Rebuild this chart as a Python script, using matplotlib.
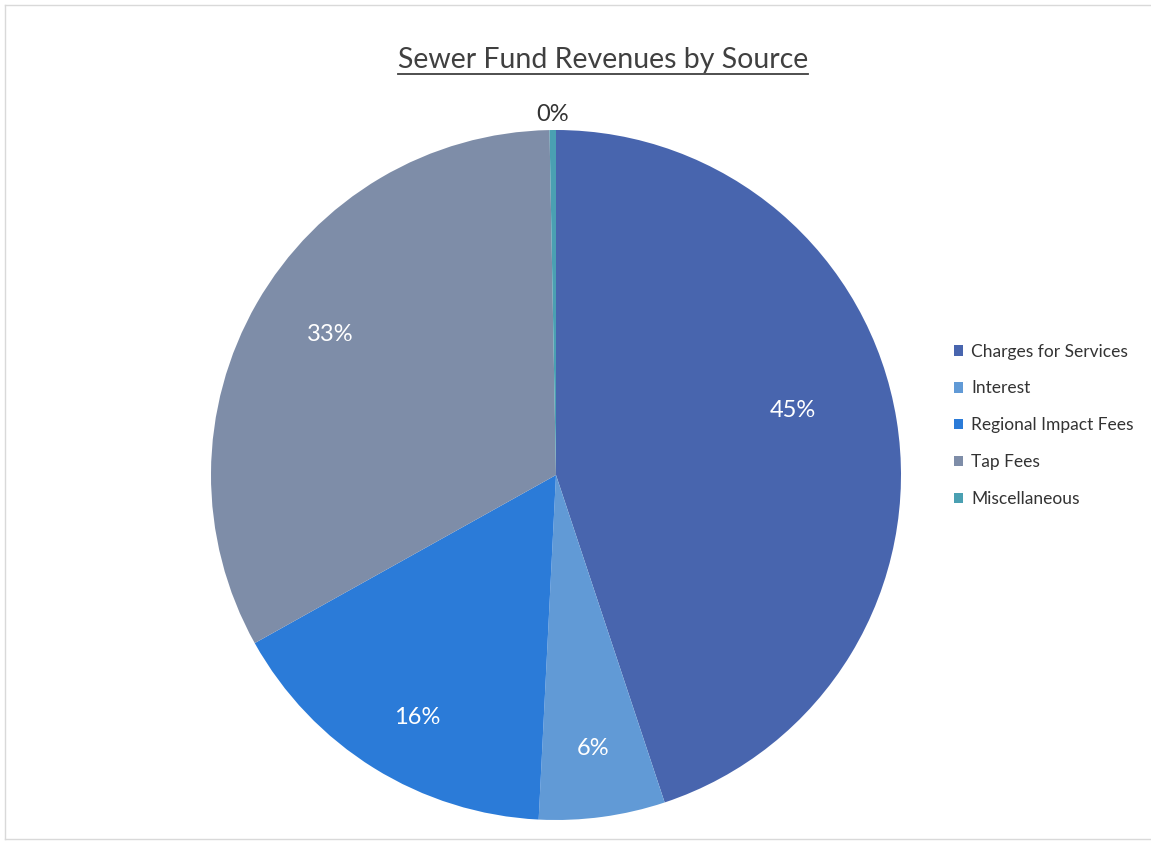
import numpy as np
import matplotlib
matplotlib.use("Agg")
import matplotlib.pyplot as plt
from matplotlib.patches import Patch
from matplotlib.lines import Line2D

plt.rcParams['font.family'] = ['Lato', 'DejaVu Sans']

# revenue shares by source (percent)
sources = ["Charges for Services", "Interest", "Regional Impact Fees", "Tap Fees", "Miscellaneous"]
shares = [44.9, 5.9, 16.1, 32.8, 0.3]
colors = ["#4865ae", "#619ad6", "#2b7bd8", "#7e8da8", "#4aa0b2"]

# where each label sits, as a fraction of the radius, plus a small angular nudge
label_radius = [0.71, 0.80, 0.81, 0.77, 1.045]
label_nudge = [6, 0, 2, -2, 0]
label_color = ["white", "white", "white", "white", "#333333"]

W, H = 1151, 843
fig = plt.figure(figsize=(W / 100, H / 100), dpi=100)

# light frame on the left, top and bottom of the chart area
frame = dict(transform=fig.transFigure, color="#d9d9d9", linewidth=1.0)
x0, y0, y1 = 4.5 / W, 1 - 838.5 / H, 1 - 4.5 / H
fig.lines.append(Line2D([x0, x0], [y0, y1], **frame))
fig.lines.append(Line2D([x0, 1.0], [y1, y1], **frame))
fig.lines.append(Line2D([x0, 1.0], [y0, y0], **frame))

cx, cy, r = 556, 475, 345
ax = fig.add_axes([(cx - r) / W, (H - cy - r) / H, 2 * r / W, 2 * r / H])
wedges, _ = ax.pie(shares, colors=colors, startangle=90, counterclock=False,
                   radius=1, wedgeprops=dict(linewidth=0))
ax.set_xlim(-1, 1)
ax.set_ylim(-1, 1)
ax.set_aspect("equal")
ax.axis("off")

for w, val, rr, nudge, c in zip(wedges, shares, label_radius, label_nudge, label_color):
    ang = np.deg2rad((w.theta1 + w.theta2) / 2 + nudge)
    ax.text(rr * np.cos(ang), rr * np.sin(ang), f"{val:.0f}%", ha="center", va="center",
            fontsize=17, color=c)

# underlined title
title = fig.text(603 / W, 1 - 60 / H, "Sewer Fund Revenues by Source", ha="center", va="center",
                 fontsize=20.5, color="#404040")
fig.canvas.draw()
bb = title.get_window_extent().transformed(fig.transFigure.inverted())
fig.lines.append(Line2D([bb.x0, bb.x1], [1 - 74 / H] * 2, transform=fig.transFigure,
                        color="#404040", linewidth=1.3))

handles = [Patch(facecolor=c, edgecolor="none") for c in colors]
fig.legend(handles, sources, loc="upper left", bbox_to_anchor=(938 / W, 1 - 328 / H),
           frameon=False, fontsize=12.5, handlelength=0.55, handleheight=0.55,
           handletextpad=0.45, labelspacing=1.2, labelcolor="#333333")

fig.savefig("out.png", dpi=100)
